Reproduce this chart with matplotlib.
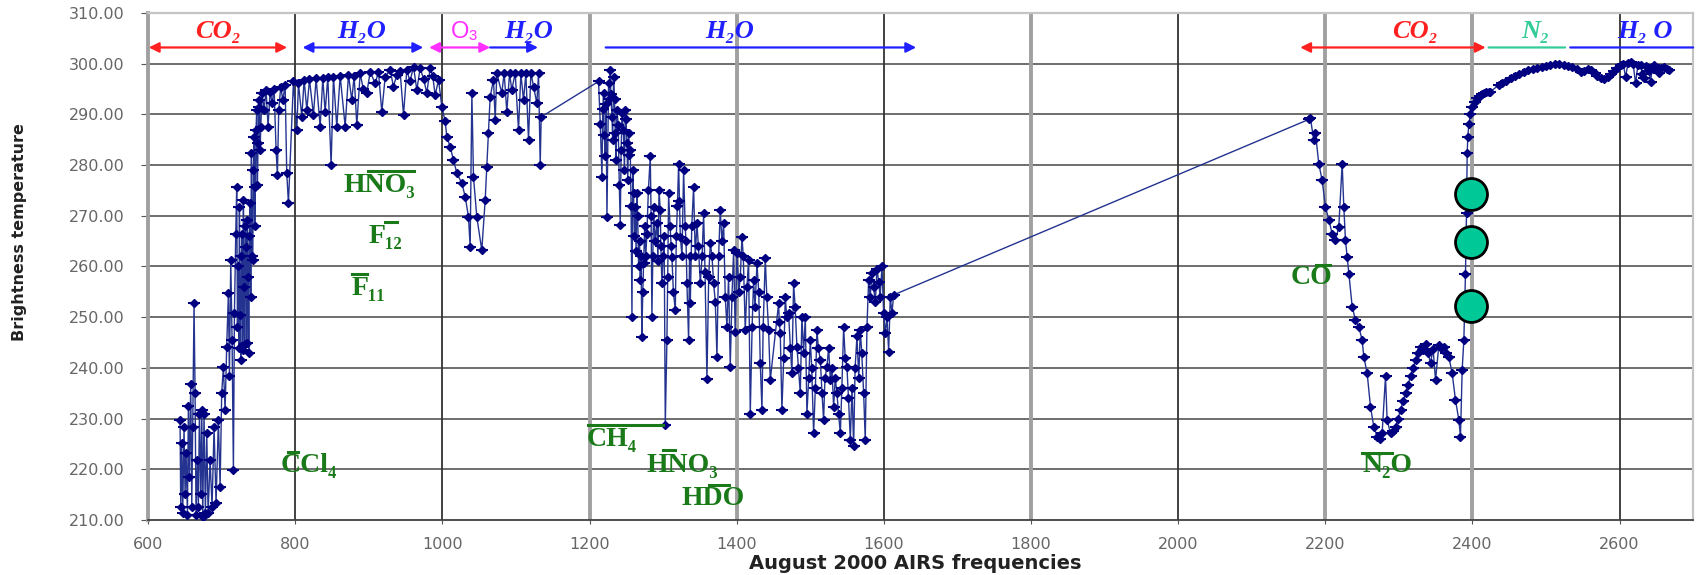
import numpy as np
import matplotlib.pyplot as plt

# ---- spectrum (cm-1, K) ----
co2_lw_f = [643.5, 644.4, 645.8, 647.1, 648.9, 650.3, 651.7, 653.5, 654.8, 656.2,
            658.0, 659.4, 660.7, 662.5, 663.9, 665.2, 667.1, 668.4, 669.8, 671.6,
            673.0, 674.3, 676.1, 677.9, 679.8, 681.6, 684.3, 687.0, 689.7, 692.4,
            695.6, 697.9, 700.1, 702.4, 704.7, 706.9, 709.2, 710.6, 712.4, 714.2,
            716.0, 717.4, 719.2, 720.5, 721.5, 722.4, 723.3, 724.2, 725.1, 726.0,
            726.9, 727.8, 728.7, 729.6, 730.5, 731.4, 732.3, 733.2, 734.1, 735.0,
            736.0, 736.9, 737.8, 738.7, 739.6, 740.5, 741.4, 742.3, 743.2, 744.1,
            745.0, 745.9, 746.8, 747.7, 748.6, 749.5, 750.5, 751.4, 752.3, 753.2,
            755.0, 757.7, 760.4, 763.1, 765.9, 768.6, 771.3, 774.0, 775.8, 777.6,
            780.4, 783.1, 786.3, 788.5, 790.8]
co2_lw_t = [229.7, 212.6, 225.1, 211.3, 228.4, 215.2, 223.2, 211.0, 232.4, 218.5,
            236.9, 212.6, 228.4, 252.7, 235.0, 211.0, 221.8, 212.6, 231.0, 215.2,
            231.7, 210.6, 231.0, 211.3, 227.1, 211.3, 221.8, 212.6, 228.4, 213.3,
            229.7, 216.6, 235.0, 240.2, 231.7, 244.2, 254.7, 238.3, 261.3, 245.5,
            219.8, 250.8, 266.5, 275.7, 248.0, 260.0, 244.0, 271.8, 250.5, 241.6,
            262.0, 266.5, 243.5, 273.1, 256.0, 244.8, 268.0, 263.9, 245.0, 269.2,
            258.0, 242.9, 266.0, 272.5, 254.0, 282.3, 262.0, 261.3, 279.0, 285.6,
            268.0, 275.7, 287.0, 290.9, 276.0, 284.3, 291.5, 292.8, 283.0, 287.6,
            294.2, 290.9, 294.8, 287.6, 294.5, 292.2, 295.1, 283.0, 278.0, 290.9,
            295.5, 292.8, 295.8, 278.4, 272.5]

window_f = [797.6, 802.2, 804.4, 809.0, 812.1, 815.8, 819.4, 824.8, 828.4, 833.9,
            837.5, 840.7, 844.3, 848.8, 852.0, 856.5, 861.1, 867.9, 872.4, 876.9,
            880.1, 883.7, 888.3, 892.5, 897.3, 901.9, 908.7, 913.2, 917.7, 922.3,
            929.0, 933.5, 938.1, 942.5, 947.2, 951.7, 956.0, 960.8, 965.3, 969.8,
            974.5, 978.9, 983.4, 987.0, 990.2, 994.8]
window_t = [296.5, 286.9, 296.1, 289.5, 296.8, 290.9, 296.9, 289.9, 297.1, 287.6,
            297.1, 290.5, 297.4, 280.0, 297.4, 287.6, 297.6, 287.6, 297.8, 292.8,
            297.6, 287.9, 298.1, 295.0, 294.2, 298.4, 296.1, 298.4, 290.5, 297.4,
            298.8, 295.5, 297.8, 298.6, 289.9, 298.8, 296.5, 299.4, 294.8, 299.1,
            297.0, 294.2, 299.1, 297.5, 293.8, 296.8]

o3_f = [999.3, 1003.8, 1006.1, 1010.6, 1015.1, 1019.7, 1026.5, 1031.0, 1035.5, 1037.8,
        1040.1, 1042.3, 1046.8, 1053.6, 1058.2, 1060.4, 1062.7, 1065.0, 1069.5, 1071.8,
        1074.0, 1080.8, 1084.0, 1087.6, 1091.3, 1094.4, 1099.0, 1103.5, 1106.7, 1110.3,
        1113.5, 1117.1, 1120.3, 1123.9, 1128.4, 1130.7, 1133.0, 1134.3]
o3_t = [291.5, 288.6, 285.6, 283.6, 281.0, 278.4, 276.4, 273.8, 269.8, 263.9,
        294.2, 277.7, 269.8, 263.2, 273.1, 279.7, 286.3, 293.5, 296.8, 288.9,
        298.1, 294.2, 298.2, 290.5, 298.1, 294.8, 298.2, 286.9, 298.1, 292.8,
        298.1, 284.9, 298.2, 295.5, 292.2, 298.1, 280.0, 289.5]

h2o_f = [1212.3, 1214.6, 1216.9, 1219.1, 1221.4, 1223.7, 1225.9, 1228.2, 1230.5, 1232.7,
         1235.0, 1237.3, 1241.8, 1244.1, 1248.6, 1250.9, 1253.1, 1255.4, 1257.7, 1259.9,
         1262.2, 1264.4, 1266.7, 1269.0, 1271.2, 1273.5, 1278.0, 1282.6, 1284.8, 1287.1,
         1291.6, 1296.2, 1298.4, 1303.0, 1305.2, 1307.5, 1312.0, 1316.6, 1321.1, 1323.4,
         1327.9, 1332.4, 1334.7, 1337.0, 1341.5, 1346.0, 1350.6, 1355.1, 1359.6, 1364.2,
         1368.7, 1373.2, 1377.7, 1382.3, 1386.8, 1391.3, 1395.9,
         1400.4, 1407.2, 1411.7, 1416.2, 1418.5, 1423.0, 1427.6, 1432.1, 1434.4, 1438.9,
         1443.4, 1445.7, 1457.0, 1459.3, 1461.5, 1466.1, 1470.6, 1475.1, 1477.4, 1481.9,
         1486.5, 1488.7, 1493.3, 1495.5, 1500.1, 1504.6, 1509.1, 1513.7, 1518.2, 1522.7,
         1527.3, 1531.8, 1536.3, 1540.9, 1545.4, 1549.9, 1554.5, 1559.0, 1563.5, 1568.0,
         1572.6, 1574.8, 1577.1, 1579.4, 1583.9, 1590.7, 1597.5, 1599.8, 1602.0, 1606.6,
         1608.8, 1611.1, 1613.4]
h2o_t = [296.5, 288.2, 277.7, 294.2, 281.7, 269.8, 296.1, 298.8, 289.5, 297.4,
         286.3, 290.9, 268.2, 290.2, 290.9, 284.3, 286.3, 283.0, 250.1, 274.4,
         271.8, 274.4, 260.0, 257.3, 246.1, 260.6, 266.5, 281.7, 250.1, 271.8,
         268.5, 271.1, 256.7, 228.7, 245.5, 274.4, 261.9, 251.4, 280.3, 265.9,
         279.0, 256.7, 245.5, 252.7, 275.7, 268.5, 256.7, 270.5, 237.9, 264.6,
         256.7, 242.2, 271.1, 268.5, 248.1, 240.2, 263.2,
         262.6, 265.9, 247.5, 261.3, 231.0, 257.3, 260.6, 240.9, 231.7, 261.6,
         247.5, 237.6, 252.7, 246.8, 231.7, 254.0, 250.8, 238.9, 256.7, 244.2,
         235.0, 250.1, 250.1, 231.0, 245.5, 227.1, 247.5, 241.6, 229.7, 240.2,
         237.6, 232.3, 235.0, 227.1, 248.1, 240.2, 225.8, 224.5, 246.2, 247.5,
         235.0, 225.8, 248.1, 257.3, 258.7, 259.6, 260.0, 250.8, 246.8, 243.2,
         254.0, 250.8, 254.4]

# extra channels inside the dense part of the water band
h2o_extra_f = [1218.0, 1220.0, 1222.5, 1227.0, 1229.0, 1231.5, 1234.0, 1236.0, 1239.0, 1240.5,
               1243.0, 1246.0, 1247.5, 1249.7, 1252.0, 1254.3, 1256.5, 1258.8, 1261.0, 1263.3,
               1265.5, 1268.0, 1270.0, 1272.4, 1275.0, 1276.5, 1280.0, 1283.7, 1286.0, 1289.0,
               1293.0, 1294.5, 1297.0, 1300.0, 1301.5, 1306.3, 1309.5, 1311.0, 1314.0, 1318.0,
               1319.5, 1322.2, 1325.7, 1330.0, 1331.2, 1336.0, 1339.0, 1343.7, 1348.0, 1353.0,
               1357.0, 1362.0, 1366.5, 1371.0, 1375.5, 1380.0, 1384.5, 1389.0, 1393.6, 1398.0,
               1403.0, 1405.0, 1409.0, 1414.0, 1421.0, 1425.0, 1430.0, 1436.0, 1441.0, 1458.0,
               1464.0, 1468.0, 1473.0, 1479.5, 1484.0, 1491.0, 1498.0, 1502.0, 1507.0, 1511.0,
               1516.0, 1520.0, 1525.0, 1529.5, 1534.0, 1538.5, 1543.0, 1547.5, 1552.0, 1556.8,
               1561.0, 1566.0, 1570.0, 1581.5, 1586.0, 1588.5, 1593.0, 1595.0, 1604.3]
h2o_extra_t = [291.0, 286.0, 292.0, 293.0, 294.0, 285.0, 293.0, 281.0, 288.0, 276.0,
               283.0, 287.0, 279.0, 289.0, 277.0, 282.0, 272.0, 279.0, 266.0, 263.0,
               270.0, 265.0, 262.0, 255.0, 268.0, 262.0, 275.0, 270.0, 262.0, 265.0,
               261.0, 275.0, 264.0, 262.0, 266.0, 258.0, 268.0, 264.0, 255.0, 266.0,
               272.0, 273.0, 262.0, 268.0, 265.0, 262.0, 268.0, 262.0, 264.0, 262.0,
               259.0, 258.0, 262.0, 253.0, 262.0, 265.0, 254.0, 258.0, 254.0, 247.0,
               255.0, 258.0, 262.0, 256.0, 248.0, 252.0, 255.0, 248.0, 254.0, 249.0,
               242.0, 250.0, 244.0, 252.0, 240.0, 243.0, 238.0, 240.0, 236.0, 244.0,
               235.0, 238.0, 244.0, 240.0, 238.0, 231.0, 236.0, 242.0, 234.0, 236.0,
               240.0, 238.0, 243.0, 254.0, 256.0, 253.0, 257.0, 254.0, 250.0]

co2_sw_f = [2177.5, 2179.9, 2184.4, 2186.7, 2191.2, 2195.8, 2200.3, 2204.8, 2209.4, 2213.9,
            2218.4, 2223.0, 2225.2, 2227.5, 2229.8, 2232.0, 2236.6, 2241.1, 2245.6, 2250.1,
            2252.4, 2257.0, 2261.5, 2266.0, 2270.5, 2274.0, 2277.3, 2281.9, 2284.1, 2288.7,
            2292.0, 2295.5, 2299.0, 2302.3, 2305.7, 2309.1, 2312.5, 2315.9, 2319.3, 2322.7,
            2326.1, 2329.5, 2332.9, 2336.3, 2339.7, 2343.1, 2346.5, 2349.9, 2354.4, 2357.8,
            2361.2, 2364.6, 2368.0, 2372.5, 2377.0, 2381.6, 2383.8, 2386.1, 2388.4, 2390.6,
            2392.0, 2392.9, 2393.8, 2395.2, 2397.4, 2399.7, 2403.1, 2406.5, 2410.0, 2413.0,
            2415.6, 2419.0, 2422.0, 2424.6]
co2_sw_t = [289.0, 289.2, 284.9, 286.3, 280.3, 277.0, 271.8, 269.2, 266.5, 265.2,
            267.8, 280.3, 271.8, 265.2, 261.9, 258.6, 252.1, 249.4, 248.1, 245.5,
            242.2, 238.9, 232.3, 228.4, 226.4, 226.0, 227.1, 238.3, 229.7, 227.1,
            227.6, 228.4, 230.0, 231.7, 233.4, 235.0, 236.7, 238.3, 240.0, 241.5,
            243.0, 244.2, 243.6, 244.8, 243.0, 240.9, 243.8, 237.6, 244.5, 243.9,
            244.2, 243.0, 242.2, 238.9, 233.7, 229.7, 226.4, 239.6, 245.5, 258.6,
            270.5, 282.3, 285.6, 288.2, 290.0, 291.5, 292.4, 293.2, 293.7, 294.0,
            294.2, 294.4, 294.5, 294.5]

n2_f = [2436.0, 2440.5, 2446.0, 2452.0, 2458.0, 2464.0, 2470.0, 2476.0, 2482.0, 2488.0,
        2494.0, 2500.0, 2506.0, 2512.0, 2518.0, 2524.0, 2530.0, 2536.0, 2542.0, 2547.0,
        2552.0, 2557.0, 2561.0, 2566.0, 2570.0, 2575.0, 2579.0, 2584.0, 2588.0, 2593.0,
        2597.0, 2601.4, 2605.0, 2608.2, 2611.5, 2615.0, 2618.5, 2621.8, 2625.0, 2628.6,
        2631.0, 2633.1, 2635.5, 2637.6, 2640.0, 2642.2, 2644.5, 2646.7, 2650.0, 2653.5,
        2657.0, 2660.3, 2664.0, 2667.1]
n2_t = [295.8, 296.1, 296.6, 297.1, 297.6, 298.0, 298.4, 298.7, 299.0, 299.2,
        299.4, 299.6, 299.8, 299.9, 299.9, 299.8, 299.6, 299.3, 298.9, 298.4,
        298.6, 298.9, 298.8, 298.2, 297.6, 297.2, 296.9, 297.3, 298.0, 298.6,
        299.2, 299.7, 299.9, 297.4, 300.1, 300.4, 299.9, 296.1, 299.8, 299.7,
        298.0, 297.1, 299.5, 299.4, 298.6, 296.4, 299.3, 299.7, 299.0, 298.1,
        299.2, 299.4, 299.0, 298.8]

freq = np.concatenate([co2_lw_f, window_f, o3_f, h2o_f, h2o_extra_f, co2_sw_f, n2_f])
temp = np.concatenate([co2_lw_t, window_t, o3_t, h2o_t, h2o_extra_t, co2_sw_t, n2_t])
order = np.argsort(freq, kind='stable')
freq, temp = freq[order], temp[order]

# three highlighted channels near 2400 cm-1
circle_f = [2397.5, 2397.5, 2397.5]
circle_t = [274.3, 264.9, 252.3]

# absorber bands along the top
band_names = ['CO₂', 'H₂O', 'O₃', 'H₂O', 'H₂O', 'CO₂', 'N₂', 'H₂ O']
band_label_x = [695, 890, 1031, 1117, 1390, 2322, 2486, 2635]
band_spans = [(601, 789), (810, 974), (982, 1065), (1065, 1130),
              (1222, 1644), (2166, 2418), (2422, 2526), (2533, 2700)]
band_arrows = ['<|-|>', '<|-|>', '<|-|>', '<|-', '<|-', '<|-|>', '-', '-']
band_colors = ['#ff2020', '#2020ff', '#ff30ff', '#2020ff', '#2020ff',
               '#ff2020', '#33cc99', '#2020ff']

# trace gas labels (left edge, baseline) and their marker bars
gas_names = ['HNO₃', 'F₁₂', 'F₁₁', 'CCl₄', 'CH₄', 'HNO₃', 'HDO', 'CO', 'N₂O']
gas_x = [865, 899, 877, 779.5, 1195.5, 1278, 1325.6, 2152.6, 2250]
gas_y = [274.7, 264.7, 254.4, 219.5, 224.6, 219.5, 213.0, 256.5, 219.5]
gas_bars = [(899, 961, 278.9), (922, 938, 268.7), (877, 897, 258.5), (790, 804, 223.5),
            (1198, 1300, 228.7), (1300, 1316, 223.8), (1363, 1390, 216.9),
            (2187, 2207, 260.3), (2250, 2291, 223.3)]

grey_grid = [1200, 1400, 1800, 2200, 2400]
dark_grid = [800, 1000, 1600, 2000, 2600]

fig = plt.figure(figsize=(16.96, 5.75), dpi=100)
ax = fig.add_axes([0.0873, 0.0957, 0.911, 0.8817])

ax.set_xlim(600, 2700)
ax.set_ylim(210, 310)
ax.set_xticks(np.arange(600, 2601, 200))
ax.set_yticks(np.arange(210, 311, 10))
ax.set_yticklabels([f'{v:.2f}' for v in np.arange(210, 311, 10)])
ax.tick_params(axis='both', colors='#555555', labelcolor='#666666', labelsize=11.5)
ax.tick_params(axis='y', length=5, pad=12)
ax.tick_params(axis='x', length=3, pad=9)

for v in np.arange(220, 310, 10):
    ax.axhline(v, color='#555555', lw=1.2, zorder=1)
for v in grey_grid:
    ax.axvline(v, color='#a0a0a0', lw=2.8, zorder=1)
for v in dark_grid:
    ax.axvline(v, color='#333333', lw=1.3, zorder=1)

ax.spines['left'].set_color('#a0a0a0')
ax.spines['left'].set_linewidth(2.8)
ax.spines['bottom'].set_color('#404040')
ax.spines['bottom'].set_linewidth(1.3)
for s in ['top', 'right']:
    ax.spines[s].set_color('#c4c4c4')
    ax.spines[s].set_linewidth(1.6)

ax.plot(freq, temp, '-', color='#23338f', lw=1.0, zorder=3)
ax.plot(freq, temp, 'D', color='#000080', ms=4.5, zorder=4)
ax.plot(freq, temp, '_', color='#000080', ms=9, mew=1.5, zorder=4)

ax.plot(circle_f, circle_t, 'o', ms=23, mfc='#00c896', mec='black', mew=2, zorder=6)

for name, lx, (x0, x1), arr, c in zip(band_names, band_label_x, band_spans,
                                       band_arrows, band_colors):
    ax.annotate('', xy=(x0, 303.2), xytext=(x1, 303.2),
                arrowprops=dict(arrowstyle=arr, color=c, lw=1.6,
                                mutation_scale=15, shrinkA=0, shrinkB=0),
                zorder=5)
    if name == 'O₃':
        ax.text(lx, 305.0, name, color=c, fontsize=17, ha='center', va='baseline',
                family=['Liberation Sans', 'DejaVu Sans'], zorder=5)
    else:
        ax.text(lx, 305.0, name, color=c, fontsize=19, ha='center', va='baseline',
                family=['Liberation Serif', 'DejaVu Serif'], style='italic',
                weight='bold', zorder=5)

green = '#1a7a1a'
for name, gx, gy in zip(gas_names, gas_x, gas_y):
    ax.text(gx, gy, name, color=green, fontsize=20, ha='left', va='baseline',
            family=['Liberation Serif', 'DejaVu Serif'], weight='bold', zorder=5)
for x0, x1, by in gas_bars:
    ax.plot([x0, x1], [by, by], color=green, lw=2.2, zorder=5)

fig.text(0.5395, 0.02, 'August 2000 AIRS frequencies', ha='center', va='center',
         fontsize=14, weight='bold', color='#222222')
fig.text(0.0115, 0.596, 'Brightness temperature', ha='center', va='center',
         rotation=90, fontsize=11.5, weight='bold', color='#222222')

fig.savefig('out.png', dpi=100)
